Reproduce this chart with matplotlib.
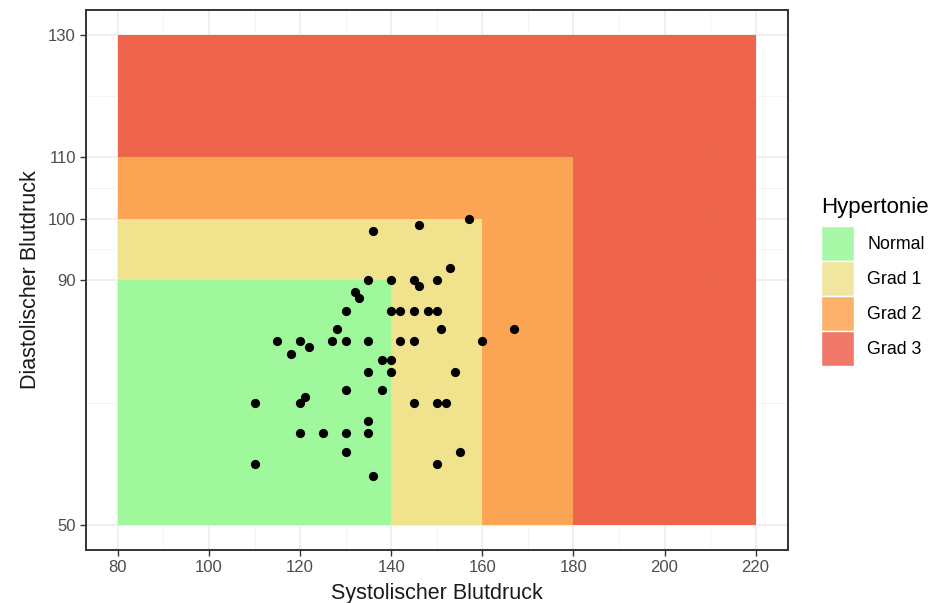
import matplotlib
matplotlib.use("Agg")
import matplotlib.pyplot as plt
from matplotlib.patches import Rectangle, Patch

plt.rcParams['font.family'] = ['Liberation Sans', 'DejaVu Sans']

# Messwerte (systolisch, diastolisch)
systolisch = [157, 146, 136, 153, 135, 140, 145, 146, 150, 132, 133, 130, 140, 142,
              145, 148, 150, 128, 151, 167, 115, 120, 127, 130, 135, 142, 145, 160,
              122, 118, 138, 140, 135, 140, 154, 130, 138, 110, 120, 121, 145, 150,
              152, 135, 120, 125, 130, 135, 130, 155, 110, 150, 136]
diastolisch = [100, 99, 98, 92, 90, 90, 90, 89, 90, 88, 87, 85, 85, 85,
               85, 85, 85, 82, 82, 82, 80, 80, 80, 80, 80, 80, 80, 80,
               79, 78, 77, 77, 75, 75, 75, 72, 72, 70, 70, 71, 70, 70,
               70, 67, 65, 65, 65, 65, 62, 62, 60, 60, 58]

# Bereiche: Name, obere Grenze systolisch / diastolisch
klassen = ['Grad 3', 'Grad 2', 'Grad 1', 'Normal']
sys_max = [220, 180, 160, 140]
dia_max = [130, 110, 100, 90]
sys_min = 80
dia_min = 50

farben = {'Grad 3': '#EE5F44', 'Grad 2': '#FCA754',
          'Grad 1': '#F1E690', 'Normal': '#9CF99C'}
legende_farben = {'Normal': '#A8F8A8', 'Grad 1': '#F0E6A0',
                  'Grad 2': '#FDB06A', 'Grad 3': '#F07868'}

fig = plt.figure(figsize=(9.3, 6.03), dpi=100)
ax = fig.add_axes([86/930, 53/603, 701.5/930, 540/603])

for name, sx, dy in zip(klassen, sys_max, dia_max):
    ax.add_patch(Rectangle((sys_min, dia_min), sx - sys_min, dy - dia_min,
                           facecolor=farben[name], alpha=0.96, linewidth=0, zorder=2))

ax.scatter(systolisch, diastolisch, s=44, color='black', zorder=3, linewidths=0)

ax.set_xlim(73, 227)
ax.set_ylim(46, 134)
ax.set_xticks(range(80, 221, 20))
ax.set_yticks([50, 90, 100, 110, 130])
ax.set_xticks(range(90, 220, 20), minor=True)
ax.set_yticks([70, 95, 105, 120], minor=True)
ax.grid(True, which='major', color='#EBEBEB', linewidth=1.1, zorder=0)
ax.grid(True, which='minor', color='#F2F2F2', linewidth=0.6, zorder=0)
ax.set_axisbelow(True)
ax.tick_params(which='minor', length=0)
ax.tick_params(which='major', length=4.3, width=1, color='#333333',
               labelsize=12, labelcolor='#4D4D4D', pad=3)
for s in ax.spines.values():
    s.set_color('#333333')
    s.set_linewidth(1.4)

ax.set_xlabel('Systolischer Blutdruck', fontsize=15.5, color='#1A1A1A', labelpad=6)
ax.set_ylabel('Diastolischer Blutdruck', fontsize=15.5, color='#1A1A1A', labelpad=5)

namen = ['Normal', 'Grad 1', 'Grad 2', 'Grad 3']
handles = [Patch(facecolor=legende_farben[n], edgecolor='white', linewidth=1) for n in namen]
leg = fig.legend(handles, namen, title='Hypertonie',
                 loc='upper left', bbox_to_anchor=(821/930, 1 - 197/603), frameon=False,
                 fontsize=12.8, title_fontsize=16, handlelength=1.85, handleheight=2.65,
                 labelspacing=0.0, handletextpad=0.75, borderaxespad=0, borderpad=0)
leg._legend_box.align = 'left'
leg._legend_box.sep = 6

fig.savefig('out.png', dpi=100)
